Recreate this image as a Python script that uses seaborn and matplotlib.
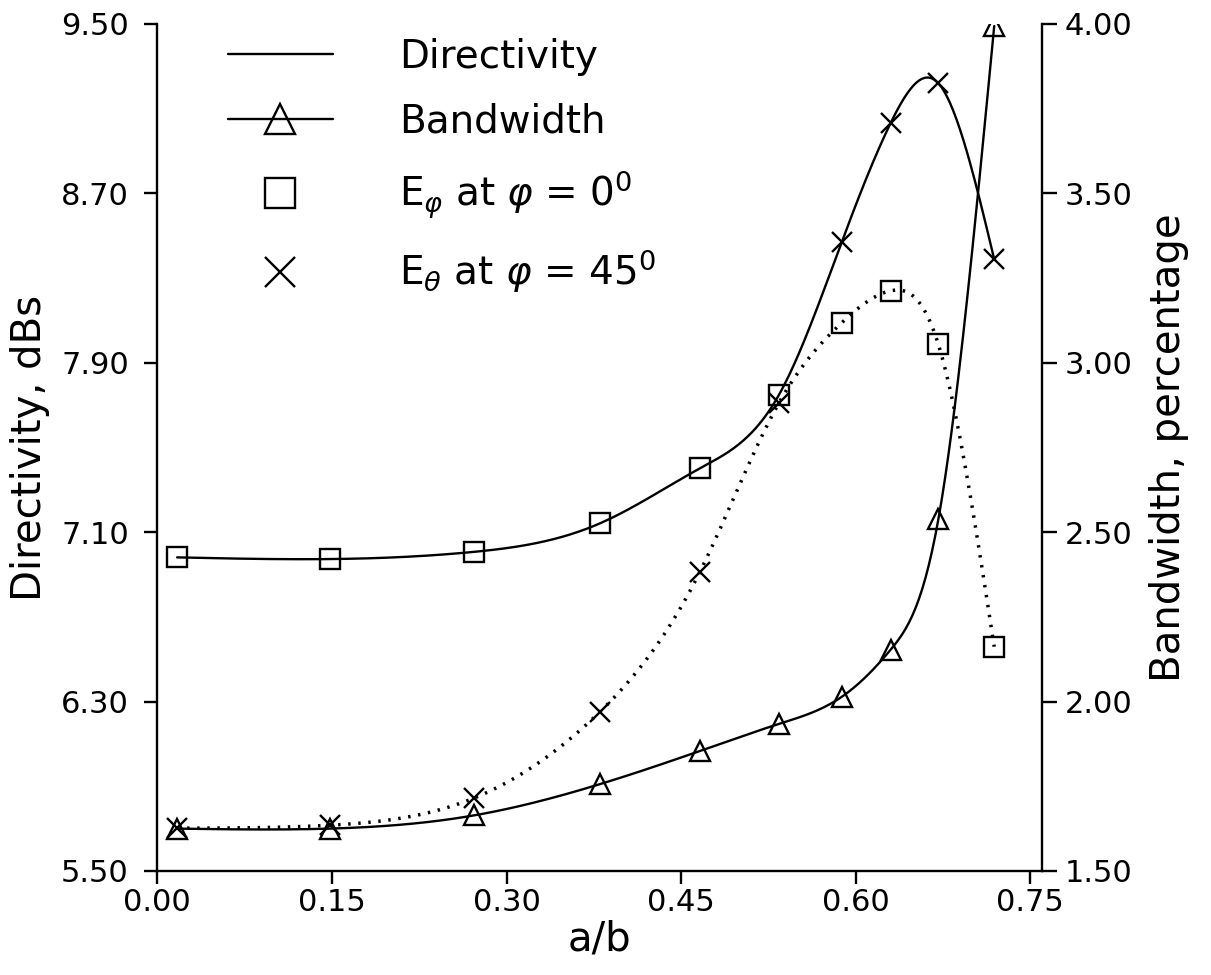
import numpy as np
import pandas as pd
import matplotlib
matplotlib.use("Agg")
import matplotlib.pyplot as plt
from matplotlib.lines import Line2D
import seaborn as sns

# ---------------- data ----------------
a_over_b = [0.017, 0.148, 0.272, 0.380, 0.466, 0.534, 0.588, 0.630, 0.671, 0.719]

# solid directivity curve: squares on the first six points, crosses on the last four
dir_solid = [6.981, 6.973, 7.007, 7.141, 7.401, 7.748, 8.470, 9.032, 9.220, 8.389]
# dotted directivity curve: crosses on the first six points, squares on the last four
dir_dotted = [5.702, 5.716, 5.844, 6.250, 6.911, 7.710, 8.089, 8.240, 7.987, 6.559]
# bandwidth (right axis), triangles
bandwidth = [1.625, 1.625, 1.664, 1.756, 1.854, 1.934, 2.014, 2.153, 2.538, 3.994]

n_first = 6  # number of points in the first marker group

left_ticks = [5.50, 6.30, 7.10, 7.90, 8.70, 9.50]
right_ticks = [1.50, 2.00, 2.50, 3.00, 3.50, 4.00]
x_ticks = [0.00, 0.15, 0.30, 0.45, 0.60, 0.75]


def natural_spline(x, y, n=500):
    """Smooth rendering of a curve through the given points (natural cubic spline)."""
    x = np.asarray(x, float)
    y = np.asarray(y, float)
    m = len(x)
    h = np.diff(x)
    A = np.zeros((m, m))
    r = np.zeros(m)
    A[0, 0] = A[-1, -1] = 1.0
    for i in range(1, m - 1):
        A[i, i - 1] = h[i - 1]
        A[i, i] = 2 * (h[i - 1] + h[i])
        A[i, i + 1] = h[i]
        r[i] = 6 * ((y[i + 1] - y[i]) / h[i] - (y[i] - y[i - 1]) / h[i - 1])
    M = np.linalg.solve(A, r)
    xs = np.linspace(x[0], x[-1], n)
    idx = np.clip(np.searchsorted(x, xs) - 1, 0, m - 2)
    x0, x1 = x[idx], x[idx + 1]
    hh = x1 - x0
    t0, t1 = x1 - xs, xs - x0
    ys = (M[idx] * t0 ** 3 + M[idx + 1] * t1 ** 3) / (6 * hh) \
        + (y[idx] / hh - M[idx] * hh / 6) * t0 \
        + (y[idx + 1] / hh - M[idx + 1] * hh / 6) * t1
    return xs, ys


sns.set_theme(style="ticks")
plt.rcParams["font.family"] = ["DejaVu Sans"]
plt.rcParams["mathtext.fontset"] = "dejavusans"
plt.rcParams["text.color"] = "black"
plt.rcParams["axes.labelcolor"] = "black"
plt.rcParams["xtick.color"] = "black"
plt.rcParams["ytick.color"] = "black"

fig = plt.figure(figsize=(12.11, 9.75), dpi=100)
ax = fig.add_axes([0.1299, 0.1067, 0.7305, 0.8687])
ax2 = ax.twinx()

lw = 1.7
mew = 1.7

# smooth curves
xs, ys = natural_spline(a_over_b, dir_solid)
sns.lineplot(x=xs, y=ys, ax=ax, color="black", linewidth=lw, sort=False)
xs, ys = natural_spline(a_over_b, dir_dotted)
sns.lineplot(x=xs, y=ys, ax=ax, color="black", linewidth=2.5, sort=False,
             linestyle=(0, (0.7, 2.2)))
xs, ys = natural_spline(a_over_b, bandwidth)
sns.lineplot(x=xs, y=ys, ax=ax2, color="black", linewidth=lw, sort=False)

# markers
df = pd.DataFrame({"x": a_over_b, "solid": dir_solid, "dotted": dir_dotted, "bw": bandwidth})
first = df.iloc[:n_first]
last = df.iloc[n_first:]

ax.plot(first["x"], first["solid"], ls="none", marker="s", ms=14, mfc="none", mec="black", mew=mew)
ax.plot(last["x"], last["solid"], ls="none", marker="x", ms=15, mec="black", mew=mew)
ax.plot(first["x"], first["dotted"], ls="none", marker="x", ms=15, mec="black", mew=mew)
ax.plot(last["x"], last["dotted"], ls="none", marker="s", ms=14, mfc="none", mec="black", mew=mew)
ax2.plot(df["x"], df["bw"], ls="none", marker="^", ms=14.5, mfc="none", mec="black", mew=mew)

# axes
ax.set_xlim(0.0, 0.76)
ax.set_ylim(5.5, 9.5)
ax2.set_ylim(1.5, 4.0)
ax.set_xticks(x_ticks)
ax.set_xticklabels([f"{v:.2f}" for v in x_ticks])
ax.set_yticks(left_ticks)
ax.set_yticklabels([f"{v:.2f}" for v in left_ticks])
ax2.set_yticks(right_ticks)
ax2.set_yticklabels([f"{v:.2f}" for v in right_ticks])

for a in (ax, ax2):
    a.spines["top"].set_visible(False)
    for s in a.spines.values():
        s.set_linewidth(1.7)
        s.set_color("black")
    a.grid(False)
ax.spines["right"].set_visible(False)
ax2.spines["left"].set_visible(False)
ax2.spines["bottom"].set_visible(False)

ax.tick_params(axis="y", direction="out", length=9.5, width=1.7, pad=11, labelsize=22)
ax.tick_params(axis="x", direction="out", length=9, width=1.7, pad=3, labelsize=22)
ax2.tick_params(axis="y", direction="out", length=10.5, width=1.7, pad=6, labelsize=22)

ax.set_xlabel("a/b", fontsize=29, labelpad=2)
ax.set_ylabel("Directivity, dBs", fontsize=29, labelpad=8)
ax2.set_ylabel("Bandwidth, percentage", fontsize=29, labelpad=12)

# legend
handles = [
    Line2D([], [], color="black", lw=lw),
    Line2D([], [], color="black", lw=lw, marker="^", ms=21, mfc="none", mec="black", mew=mew),
    Line2D([], [], ls="none", marker="s", ms=21, mfc="none", mec="black", mew=mew),
    Line2D([], [], ls="none", marker="x", ms=21, mec="black", mew=mew),
]
labels = [
    "Directivity",
    "Bandwidth",
    r"E$_{\varphi}$ at $\varphi$ = 0$^0$",
    r"E$_{\theta}$ at $\varphi$ = 45$^0$",
]
leg = ax.legend(handles, labels, loc="upper left", bbox_to_anchor=(0.071, 0.993),
                frameon=False, fontsize=28, handlelength=2.7, handletextpad=1.7,
                labelspacing=0.7, borderaxespad=0.0, borderpad=0.2)

fig.savefig("out.png", dpi=100)
